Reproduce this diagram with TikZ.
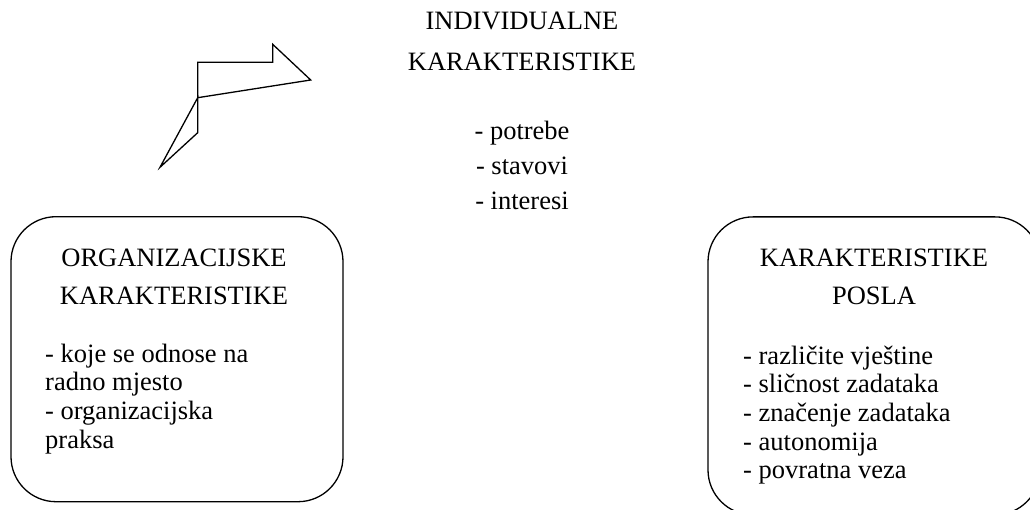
\documentclass[tikz,border=0pt]{standalone}
\usepackage{fontspec}
\setmainfont{Liberation Serif}

\begin{document}
\begin{tikzpicture}[x=1pt, y=-1pt,
    kutija/.style={draw, line width=1.3pt, rounded corners=45pt},
    naslov/.style={anchor=base, inner sep=0pt, font=\fontsize{26.5}{30}\selectfont},
    stavka/.style={anchor=base west, inner sep=0pt, font=\fontsize{26.5}{30}\selectfont}]

    \useasboundingbox (0,0) rectangle (1030,510);
    \clip (0,0) rectangle (1030,510);

	% Broken arrow shape
	\coordinate (s0) at (197.7,97.7);
	\draw[line width=1.3pt] (s0) -- (197.7,62.3) -- (272.7,62.3) -- (272.7,44.3) -- (310.7,80) -- cycle;
	\draw[line width=1.3pt] (s0) -- (197.7,132.7) -- (160,167.3) -- cycle;

	% Individualne karakteristike
	\node[naslov] (ind1) at (522,30) {INDIVIDUALNE};
	\node[naslov] (ind2) at (522,71) {KARAKTERISTIKE};
	\foreach \t [count=\i] in {potrebe, stavovi, interesi}
	    \node[naslov] (ind-\i) at (522,{140+35*(\i-1)}) {- \t};

	% Organizacijske karakteristike
	\node[kutija, minimum width=332pt, minimum height=285pt] (org) at (177,359.2) {};
	\node[naslov] (org1) at (174,267) {ORGANIZACIJSKE};
	\node[naslov] (org2) at (174,305) {KARAKTERISTIKE};
	\foreach \t [count=\i] in {- koje se odnose na, radno mjesto, - organizacijska, praksa}
	    \node[stavka] (org-\i) at (45,{362+28.7*(\i-1)}) {\t};

	% Karakteristike posla
	\node[kutija, minimum width=332pt, minimum height=298pt] (pos) at (874,365.9) {};
	\node[naslov] (pos1) at (874,267) {KARAKTERISTIKE};
	\node[naslov] (pos2) at (874,305) {POSLA};
	\foreach \t [count=\i] in {različite vještine, sličnost zadataka, značenje zadataka, autonomija, povratna veza}
	    \node[stavka] (pos-\i) at (743,{364+28.7*(\i-1)}) {- \t};

\end{tikzpicture}
\end{document}
